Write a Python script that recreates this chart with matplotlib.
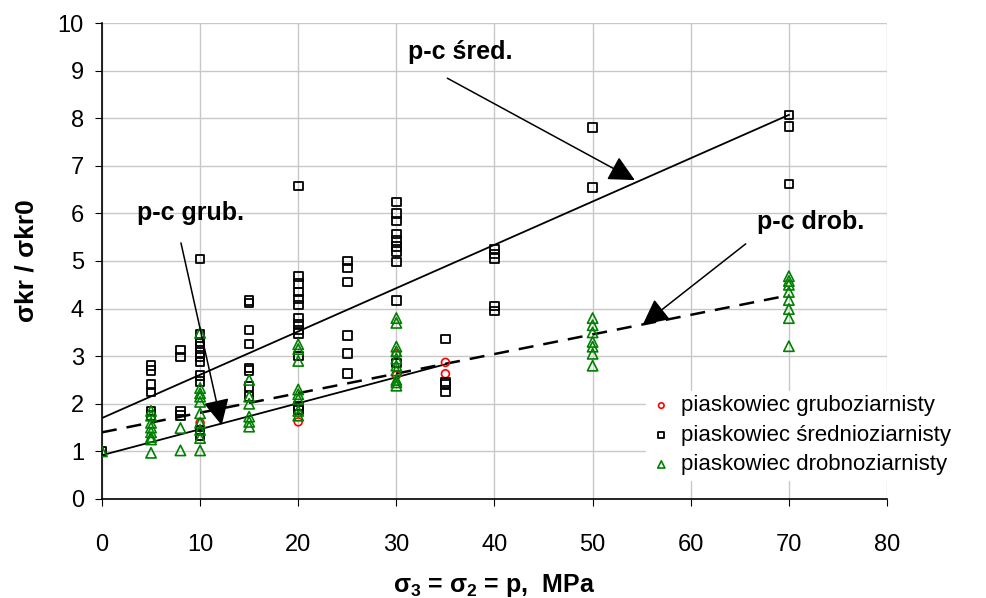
import matplotlib.pyplot as plt

plt.rcParams['font.family'] = ['Liberation Sans', 'DejaVu Sans']

# piaskowiec gruboziarnisty (red circles)
grub_x = [10, 20, 30, 30, 35, 35]
grub_y = [1.6, 1.62, 3.05, 2.6, 2.87, 2.63]

# piaskowiec średnioziarnisty (black squares)
sred_x = [0,
          5, 5, 5, 5, 5, 5,
          8, 8, 8, 8,
          10, 10, 10, 10, 10, 10, 10, 10, 10, 10, 10,
          15, 15, 15, 15, 15, 15, 15, 15,
          20, 20, 20, 20, 20, 20, 20, 20, 20, 20, 20, 20, 20,
          25, 25, 25, 25, 25, 25,
          30, 30, 30, 30, 30, 30, 30, 30, 30, 30,
          35, 35, 35, 35,
          40, 40, 40, 40, 40,
          50, 50,
          70, 70, 70]
sred_y = [1.0,
          2.8, 2.7, 2.4, 2.25, 1.85, 1.75,
          3.13, 2.98, 1.85, 1.75,
          5.04, 3.45, 3.3, 3.2, 3.08, 2.98, 2.88, 2.6, 2.47, 1.45, 1.33,
          4.17, 4.12, 3.55, 3.26, 2.75, 2.7, 2.36, 2.15,
          6.58, 4.67, 4.53, 4.35, 4.2, 4.08, 3.8, 3.68, 3.55, 3.48, 3.0, 1.95, 1.87,
          5.0, 4.85, 4.56, 3.44, 3.06, 2.64,
          6.24, 6.0, 5.84, 5.57, 5.43, 5.3, 5.2, 4.98, 4.17, 2.86,
          3.36, 2.46, 2.4, 2.25,
          5.25, 5.15, 5.05, 4.05, 3.95,
          7.8, 6.55,
          8.07, 7.83, 6.62]

# piaskowiec drobnoziarnisty (green triangles)
drob_x = [0,
          5, 5, 5, 5, 5, 5, 5, 5,
          8, 8,
          10, 10, 10, 10, 10, 10, 10, 10, 10, 10,
          15, 15, 15, 15, 15, 15,
          20, 20, 20, 20, 20, 20, 20, 20,
          30, 30, 30, 30, 30, 30, 30, 30, 30, 30,
          50, 50, 50, 50, 50, 50, 50,
          70, 70, 70, 70, 70, 70, 70, 70]
drob_y = [1.0,
          1.85, 1.75, 1.6, 1.5, 1.4, 1.3, 1.25, 0.97,
          1.49, 1.02,
          3.49, 2.33, 2.22, 2.15, 2.04, 1.8, 1.6, 1.45, 1.28, 1.02,
          2.5, 2.15, 2.0, 1.73, 1.62, 1.52,
          3.25, 3.15, 2.9, 2.3, 2.2, 2.1, 1.85, 1.75,
          3.8, 3.7, 3.2, 3.1, 2.95, 2.8, 2.7, 2.5, 2.45, 2.38,
          3.8, 3.65, 3.5, 3.3, 3.2, 3.05, 2.8,
          4.68, 4.58, 4.5, 4.35, 4.18, 3.99, 3.8, 3.21]

# trend lines (end points)
line_sred_x = [0, 70]
line_sred_y = [1.7, 8.07]
line_drob_x = [0, 70]
line_drob_y = [1.4, 4.28]
line_grub_x = [0, 35]
line_grub_y = [0.92, 2.83]

fig = plt.figure(figsize=(9.87, 5.98), dpi=100)
ax = fig.add_axes([0.1033, 0.1656, 0.7954, 0.7959])

ax.plot(line_sred_x, line_sred_y, color='black', lw=1.3, zorder=3)
ax.plot(line_drob_x, line_drob_y, color='black', lw=1.8, ls=(0, (6, 4)), zorder=3)
ax.plot(line_grub_x, line_grub_y, color='black', lw=1.3, zorder=3)

ax.scatter(grub_x, grub_y, marker='o', s=32, facecolors='none', edgecolors='red',
           linewidths=1.2, label='piaskowiec gruboziarnisty', zorder=4)
ax.scatter(sred_x, sred_y, marker='s', s=38, facecolors='none', edgecolors='black',
           linewidths=1.3, label='piaskowiec średnioziarnisty', zorder=4)
ax.scatter(drob_x, drob_y, marker='^', s=55, facecolors='none', edgecolors='green',
           linewidths=1.2, label='piaskowiec drobnoziarnisty', zorder=4)

# annotation labels and arrows
arrow = dict(arrowstyle='-|>,head_length=1.6,head_width=0.8', color='black',
             lw=1.1, shrinkA=0, shrinkB=0)
ax.text(36.5, 9.39, 'p-c śred.', fontsize=18, fontweight='bold', ha='center', va='center', zorder=5)
ax.annotate('', xy=(54.3, 6.7), xytext=(35.2, 8.84), arrowprops=arrow, zorder=5)
ax.text(9.0, 6.0, 'p-c grub.', fontsize=18, fontweight='bold', ha='center', va='center', zorder=5)
ax.annotate('', xy=(12.2, 1.55), xytext=(8.05, 5.38), arrowprops=arrow, zorder=5)
ax.text(72.2, 5.82, 'p-c drob.', fontsize=18, fontweight='bold', ha='center', va='center', zorder=5)
ax.annotate('', xy=(55.1, 3.66), xytext=(65.6, 5.36), arrowprops=arrow, zorder=5)

ax.set_xlim(0, 80)
ax.set_ylim(0, 10)
ax.set_xticks(range(0, 81, 10))
ax.set_yticks(range(0, 11, 1))
ax.grid(True, color='#c8c8c8', lw=1)
ax.set_axisbelow(True)
for s in ['top', 'right']:
    ax.spines[s].set_visible(False)
ax.spines['left'].set_linewidth(1.2)
ax.spines['bottom'].set_linewidth(1.2)
ax.tick_params(labelsize=17, length=5)
ax.tick_params(axis='x', pad=20)
ax.tick_params(axis='y', pad=8)

ax.set_xlabel(r'σ$_\mathregular{3}$ = σ$_\mathregular{2}$ = p,  MPa', fontsize=18,
              fontweight='bold', labelpad=12)
ax.set_ylabel('σkr / σkr0', fontsize=19, fontweight='bold', labelpad=14)

leg = ax.legend(loc='center left', bbox_to_anchor=(0.643, 0.272), bbox_transform=fig.transFigure,
                fontsize=16, frameon=True, framealpha=1, edgecolor='white', fancybox=False,
                handletextpad=0.4, borderpad=0.2, labelspacing=0.38, handlelength=1.0,
                markerscale=0.7)
leg.set_zorder(6)

fig.savefig('out.png', dpi=100)
